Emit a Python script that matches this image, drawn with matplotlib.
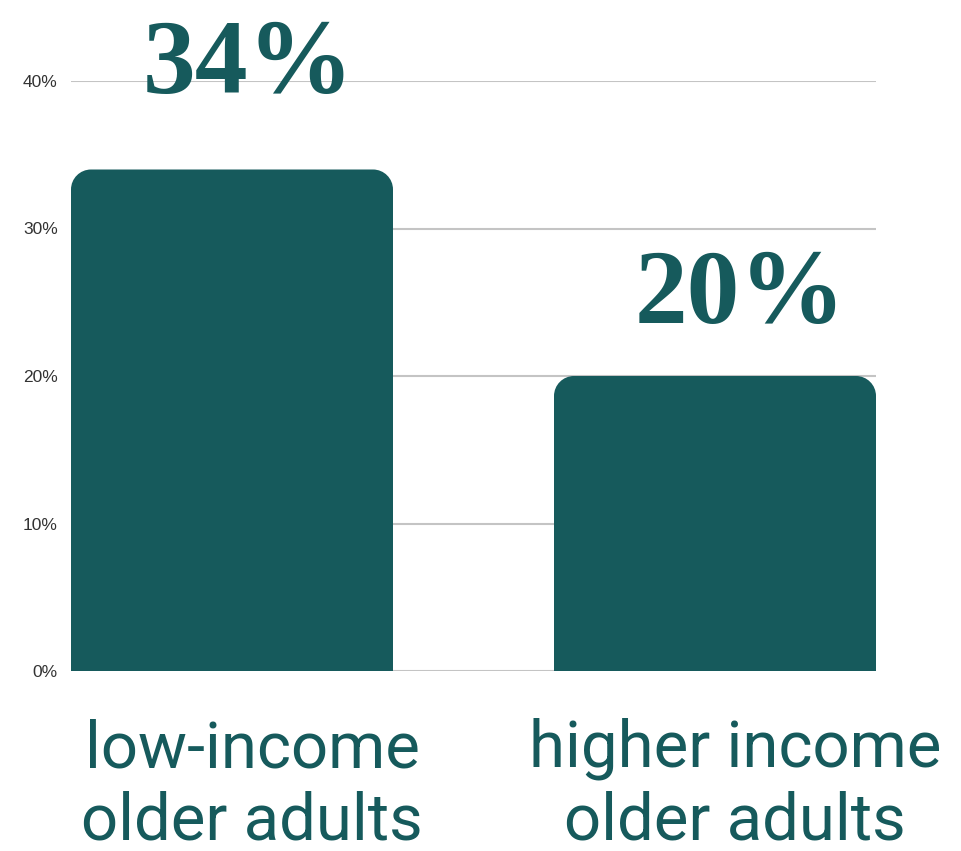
import matplotlib
matplotlib.use("Agg")
import matplotlib.pyplot as plt
from matplotlib.path import Path
from matplotlib.patches import PathPatch
from matplotlib.ticker import FuncFormatter

groups = ["low-income\nolder adults", "higher income\nolder adults"]
shares = [34, 20]
yticks = [0, 10, 20, 30, 40]

teal = "#165a5c"
grid_grey = "#c4c4c4"

fig = plt.figure(figsize=(9.61, 8.51), dpi=100)
ax = fig.add_axes([71 / 961, 180 / 851, 805 / 961, 590 / 851])

x = list(range(len(shares)))
width = 2 / 3
bars = ax.bar(x, shares, width=width, color=teal, zorder=2)
ax.set_xlim(-width / 2, len(shares) - 1 + width / 2)
ax.set_ylim(0, 40)

# swap the square bars for ones with rounded top corners
fig.canvas.draw()
px_x = ax.transData.transform((1, 0))[0] - ax.transData.transform((0, 0))[0]
px_y = ax.transData.transform((0, 1))[1] - ax.transData.transform((0, 0))[1]
r_px = 20
rx, ry = r_px / px_x, r_px / px_y
k = 0.5523
for b in bars:
    x0, w, h = b.get_x(), b.get_width(), b.get_height()
    x1 = x0 + w
    verts = [
        (x0, 0), (x0, h - ry),
        (x0, h - ry + k * ry), (x0 + rx - k * rx, h), (x0 + rx, h),
        (x1 - rx, h),
        (x1 - rx + k * rx, h), (x1, h - ry + k * ry), (x1, h - ry),
        (x1, 0), (x0, 0),
    ]
    codes = [Path.MOVETO, Path.LINETO,
             Path.CURVE4, Path.CURVE4, Path.CURVE4,
             Path.LINETO,
             Path.CURVE4, Path.CURVE4, Path.CURVE4,
             Path.LINETO, Path.CLOSEPOLY]
    ax.add_patch(PathPatch(Path(verts, codes), facecolor=teal,
                           edgecolor="none", zorder=2))
    b.set_visible(False)

# value labels
label_pad = [76, 53]
label_dx = [16, 25]
for xi, v, pad, dx in zip(x, shares, label_pad, label_dx):
    ax.annotate(f"{v}%", (xi, v), xytext=(dx, pad), textcoords="offset pixels",
                ha="center", va="baseline", fontsize=76, fontweight="bold",
                family="Liberation Serif", color=teal, clip_on=False)

# category labels under the bars, one line at a time
for xi, g in zip(x, groups):
    for i, line in enumerate(g.split("\n")):
        ax.annotate(line, (xi, 0), xytext=(20, -96 - 73 * i),
                    textcoords="offset pixels", ha="center", va="baseline",
                    fontsize=47, family="Roboto", color=teal)

ax.set_yticks(yticks)
ax.yaxis.set_major_formatter(FuncFormatter(lambda v, _: f"{v:.0f}%"))
ax.tick_params(axis="y", length=0, pad=9.5, labelsize=12.5, labelcolor="#333333")
ax.tick_params(axis="x", bottom=False, labelbottom=False)
ax.grid(axis="y", color=grid_grey, linewidth=1.5, zorder=0)
ax.set_axisbelow(True)
for s in ax.spines.values():
    s.set_visible(False)
for lbl in ax.get_yticklabels():
    lbl.set_family("Liberation Sans")

fig.savefig("out.png", dpi=100)
